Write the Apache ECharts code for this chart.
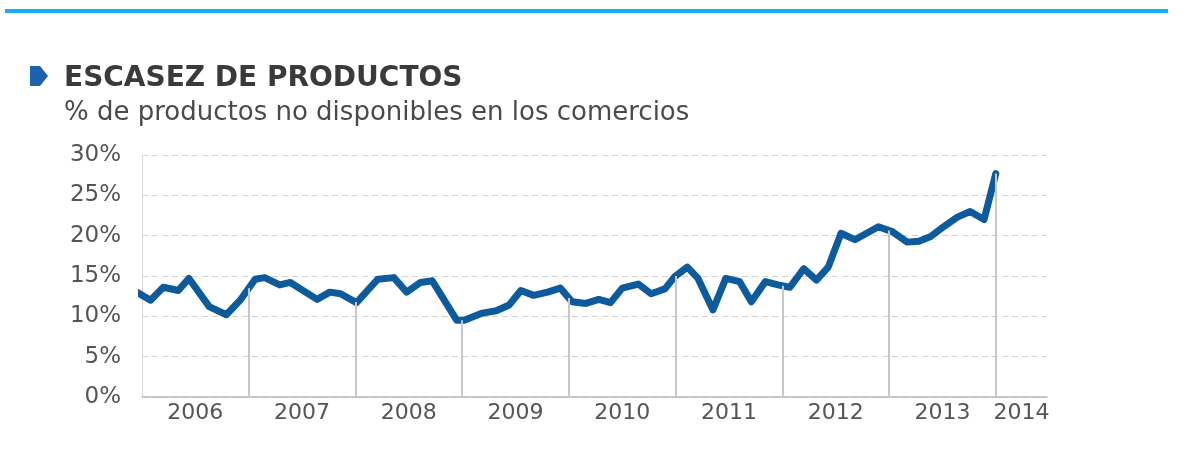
<!DOCTYPE html>
<html>
<head>
<meta charset="utf-8">
<script src="https://cdn.jsdelivr.net/npm/echarts@6/dist/echarts.min.js"></script>
<style>
html,body{margin:0;padding:0;background:#fff;}
#c{width:1185px;height:474px;}
</style>
</head>
<body>
<div id="c"></div>
<script>
// Data (decimal year, % of products unavailable)
const dates = [2005.95, 2006.08, 2006.20, 2006.34, 2006.44, 2006.63, 2006.79, 2006.92,
  2007.06, 2007.15, 2007.29, 2007.39, 2007.64, 2007.76, 2007.86,
  2008.01, 2008.21, 2008.36, 2008.48, 2008.61, 2008.72, 2008.95,
  2009.02, 2009.19, 2009.32, 2009.44, 2009.55, 2009.67, 2009.80, 2009.92,
  2010.03, 2010.16, 2010.28, 2010.39, 2010.50, 2010.65, 2010.77, 2010.90, 2010.99,
  2011.11, 2011.21, 2011.35, 2011.47, 2011.60, 2011.71, 2011.84, 2011.96,
  2012.07, 2012.20, 2012.32, 2012.43, 2012.55, 2012.68, 2012.90,
  2013.03, 2013.17, 2013.28, 2013.39, 2013.51, 2013.64, 2013.76, 2013.89, 2014.00];
const values = [13.0, 12.0, 13.6, 13.2, 14.7, 11.2, 10.2, 12.0,
  14.6, 14.8, 13.9, 14.2, 12.1, 13.0, 12.8,
  11.7, 14.6, 14.8, 13.0, 14.2, 14.4, 9.5,
  9.5, 10.4, 10.7, 11.4, 13.2, 12.6, 13.0, 13.5,
  11.8, 11.6, 12.1, 11.7, 13.5, 14.0, 12.8, 13.4, 14.9,
  16.1, 14.7, 10.8, 14.7, 14.3, 11.8, 14.3, 13.9,
  13.6, 15.9, 14.5, 16.1, 20.3, 19.5, 21.1,
  20.5, 19.2, 19.3, 19.9, 21.1, 22.3, 23.0, 22.0, 27.7];
const yearLabels = [2006, 2007, 2008, 2009, 2010, 2011, 2012, 2013, 2014];
const yTicks = [0, 5, 10, 15, 20, 25, 30];
const title = 'ESCASEZ DE PRODUCTOS';
const subtitle = '% de productos no disponibles en los comercios';

const xMin = 2006, xMax = 2014.48;

function valueAt(x) {
  for (let i = 0; i < dates.length - 1; i++) {
    if (x >= dates[i] && x <= dates[i + 1]) {
      const t = (x - dates[i]) / (dates[i + 1] - dates[i]);
      return values[i] + t * (values[i + 1] - values[i]);
    }
  }
  return values[values.length - 1];
}

const labelPos = yearLabels.map(y => (y + Math.min(y + 1, xMax)) / 2);
const sepLines = yearLabels.slice(1).map(y => [{ coord: [y, 0] }, { coord: [y, valueAt(y)] }]);

const chart = echarts.init(document.getElementById('c'));
chart.setOption({
  backgroundColor: '#ffffff',
  animation: false,
  title: [
    { text: title, left: 59, top: 60, textStyle: { fontFamily: 'DejaVu Sans', fontWeight: 'bold', fontSize: 28, color: '#3a3a3a' } },
    { text: subtitle, left: 59, top: 95, textStyle: { fontFamily: 'DejaVu Sans', fontWeight: 'normal', fontSize: 26, color: '#4a4a4a' } }
  ],
  graphic: [
    { type: 'rect', shape: { x: 5, y: 9, width: 1163, height: 4 }, style: { fill: '#14b0f2' } },
    { type: 'polygon', shape: { points: [[30, 66], [40, 66], [48, 76], [40, 86], [30, 86]] }, style: { fill: '#1a62ad' } }
  ],
  grid: { left: 142, right: 138, top: 155, bottom: 77 },
  xAxis: {
    type: 'value', min: xMin, max: xMax,
    axisLine: { show: true, lineStyle: { color: '#b8b8b8', width: 1.5 } },
    axisTick: { show: false },
    splitLine: { show: false },
    axisLabel: {
      customValues: labelPos,
      formatter: v => String(Math.floor(v)),
      fontFamily: 'DejaVu Sans', fontSize: 22, color: '#555', margin: 5
    }
  },
  yAxis: {
    type: 'value', min: yTicks[0], max: yTicks[yTicks.length - 1], interval: 5,
    axisLine: { show: true, lineStyle: { color: '#d8d8d8', width: 1 } },
    axisTick: { show: false },
    splitLine: { show: true, lineStyle: { color: '#cfcfcf', type: [6, 4], width: 1 } },
    axisLabel: { formatter: '{value}%', fontFamily: 'DejaVu Sans', fontSize: 23, color: '#555', margin: 21 }
  },
  series: [
    {
      type: 'line', data: [], z: 1, silent: true,
      markLine: { silent: true, symbol: 'none', label: { show: false },
        lineStyle: { color: '#c8c8c8', width: 2, type: 'solid' }, data: sepLines }
    },
    {
      type: 'line', z: 3, clip: false, symbol: 'none', smooth: false,
      data: dates.map((d, i) => [d, values[i]]),
      lineStyle: { color: '#0d5b9c', width: 7, cap: 'round', join: 'round' }
    }
  ]
});
</script>
</body>
</html>
